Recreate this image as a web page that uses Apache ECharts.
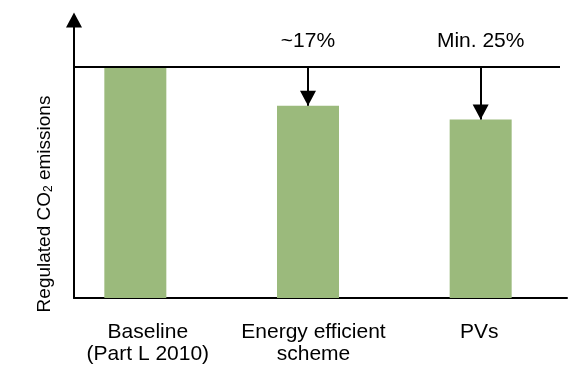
<!DOCTYPE html>
<html>
<head>
<meta charset="utf-8">
<script src="https://cdn.jsdelivr.net/npm/echarts@6/dist/echarts.min.js"></script>
<style>html,body{margin:0;padding:0;background:#fff}#c{width:569px;height:368px}</style>
</head>
<body>
<div id="c"></div>
<script>
var categories = ['Baseline\n(Part L 2010)', 'Energy efficient\nscheme', 'PVs'];
var values = [100, 83, 77];
var reductionLabels = ['', '~17%', 'Min. 25%'];
var baselineValue = 100;
var yMax = 120;

var FONT = '"Liberation Sans", Arial, sans-serif';
var chart = echarts.init(document.getElementById('c'));

var arrowData = [];
for (var i = 0; i < categories.length; i++) {
  if (!reductionLabels[i]) continue;
  arrowData.push([
    { name: reductionLabels[i], coord: [i, baselineValue] },
    { coord: [i, values[i]] }
  ]);
}

chart.setOption({
  animation: false,
  backgroundColor: '#fff',
  textStyle: { fontFamily: FONT },
  grid: [
    { left: 49, right: 2, top: 20, bottom: 70 },   // bars
    { left: 74, right: 2, top: 20, bottom: 70 },   // axis lines
    { left: 74, right: 9, top: 20, bottom: 70 },   // baseline reference line
    { left: 65, right: 7, top: 20, bottom: 70 }    // category labels
  ],
  xAxis: [
    { gridIndex: 0, type: 'category', data: categories,
      axisLine: { show: false }, axisTick: { show: false }, axisLabel: { show: false } },
    { gridIndex: 1, type: 'value', min: 0, max: 1,
      axisLine: { show: true, lineStyle: { color: '#000', width: 2 } },
      axisTick: { show: false }, axisLabel: { show: false }, splitLine: { show: false } },
    { gridIndex: 2, type: 'value', min: 0, max: 1, show: false },
    { gridIndex: 3, type: 'category', data: categories,
      axisLine: { show: false }, axisTick: { show: false },
      axisLabel: { fontSize: 21, color: '#000', lineHeight: 22, margin: 23, fontFamily: FONT, interval: 0 } }
  ],
  yAxis: [
    { gridIndex: 0, type: 'value', min: 0, max: yMax, show: false },
    { gridIndex: 1, type: 'value', min: 0, max: yMax,
      axisLine: { show: true, symbol: ['none', 'triangle'], symbolSize: [16, 15],
        lineStyle: { color: '#000', width: 2 } },
      axisTick: { show: false }, axisLabel: { show: false }, splitLine: { show: false },
      name: 'Regulated CO{sub|2} emissions', nameLocation: 'middle', nameRotate: 90, nameGap: 19,
      nameTextStyle: { fontSize: 19, color: '#000', fontFamily: FONT, padding: [0, 90, 0, 0],
        rich: { sub: { fontSize: 12, verticalAlign: 'bottom', padding: [8, 0, 0, 0], fontFamily: FONT } } } },
    { gridIndex: 2, type: 'value', min: 0, max: yMax, show: false },
    { gridIndex: 3, type: 'value', min: 0, max: yMax, show: false }
  ],
  series: [
    { type: 'bar', xAxisIndex: 0, yAxisIndex: 0, data: values, barWidth: 62,
      itemStyle: { color: '#9BBA7C' },
      markLine: {
        silent: true, animation: false,
        symbol: ['none', 'triangle'], symbolSize: [16, 15], symbolOffset: [0, [0, 7.5]],
        lineStyle: { color: '#000', width: 2, type: 'solid' },
        label: { show: true, position: 'start', formatter: '{b}', fontSize: 21, color: '#000', distance: 15, fontFamily: FONT },
        emphasis: { disabled: true },
        data: arrowData
      }
    },
    { type: 'line', xAxisIndex: 2, yAxisIndex: 2, data: [],
      markLine: {
        silent: true, animation: false, symbol: ['none', 'none'],
        lineStyle: { color: '#000', width: 2, type: 'solid' },
        label: { show: false },
        data: [{ yAxis: baselineValue }]
      }
    }
  ]
});
</script>
</body>
</html>
